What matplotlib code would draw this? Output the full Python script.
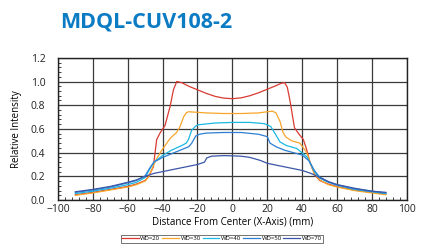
import matplotlib
matplotlib.use("Agg")
import matplotlib.pyplot as plt
from matplotlib.ticker import MultipleLocator

plt.rcParams["font.family"] = ["Open Sans", "DejaVu Sans"]

title = "MDQL-CUV108-2"
labels = ["WD=20", "WD=30", "WD=40", "WD=50", "WD=70"]
colors = ["#d93a32", "#f7a52a", "#1cb8e2", "#2d7fd2", "#3b56a8"]

x20 = [-90, -80, -70, -60, -55, -50, -48, -45.3, -43.4, -41.5, -38.6, -35.7, -33.8, -31.9, -29, -25, -20, -15, -10, -5, 0, 5, 10, 15, 20, 25, 28, 30, 31.5, 33, 35.6, 38, 40.7, 42.5, 44.6, 47.4, 50, 55, 60, 70, 80, 88]
y20 = [0.045, 0.065, 0.09, 0.115, 0.135, 0.165, 0.2, 0.28, 0.51, 0.565, 0.63, 0.79, 0.93, 1.0, 0.99, 0.96, 0.93, 0.9, 0.875, 0.86, 0.855, 0.862, 0.88, 0.905, 0.935, 0.965, 0.985, 0.99, 0.95, 0.84, 0.61, 0.56, 0.51, 0.43, 0.31, 0.21, 0.165, 0.135, 0.115, 0.085, 0.065, 0.05]

x30 = [-90, -80, -70, -60, -55, -50, -47.8, -45, -43.4, -40.5, -35.7, -32, -30, -28, -26.5, -25.2, -22, -15, -5, 0, 5, 15, 20, 23, 25, 27.4, 29, 30.8, 34, 38.7, 42.7, 45, 47, 50, 55, 60, 70, 80, 88]
y30 = [0.04, 0.06, 0.085, 0.11, 0.13, 0.16, 0.2, 0.3, 0.35, 0.42, 0.52, 0.57, 0.62, 0.7, 0.735, 0.745, 0.742, 0.735, 0.73, 0.73, 0.73, 0.735, 0.745, 0.75, 0.735, 0.66, 0.57, 0.53, 0.5, 0.48, 0.4, 0.3, 0.22, 0.17, 0.13, 0.11, 0.08, 0.06, 0.045]

x40 = [-90, -80, -70, -60, -55, -50, -47.8, -45, -39.6, -35, -29, -26.5, -25.2, -23.3, -21, -19.5, -10, 0, 10, 18, 20, 22, 24.5, 27.3, 31, 36.9, 42.7, 45, 47, 50, 55, 60, 70, 80, 88]
y40 = [0.055, 0.075, 0.1, 0.13, 0.15, 0.19, 0.25, 0.32, 0.38, 0.42, 0.46, 0.48, 0.51, 0.59, 0.625, 0.635, 0.65, 0.655, 0.655, 0.645, 0.635, 0.62, 0.56, 0.49, 0.46, 0.435, 0.365, 0.3, 0.24, 0.185, 0.15, 0.125, 0.09, 0.07, 0.055]

x50 = [-90, -80, -70, -60, -55, -50, -47.8, -45, -40, -35, -30, -25, -23.3, -21, -18.9, -15, -5, 0, 5, 15, 20, 21.6, 25, 30, 35, 40, 44, 47, 50, 55, 60, 70, 80, 88]
y50 = [0.065, 0.085, 0.11, 0.145, 0.165, 0.205, 0.26, 0.32, 0.36, 0.39, 0.42, 0.45, 0.48, 0.54, 0.555, 0.565, 0.57, 0.57, 0.57, 0.555, 0.535, 0.48, 0.45, 0.42, 0.4, 0.38, 0.33, 0.25, 0.195, 0.155, 0.13, 0.095, 0.075, 0.06]

x70 = [-90, -80, -70, -60, -55, -50, -45, -40, -30, -20, -16, -14.7, -12, -5, 0, 5, 10, 15.9, 20, 30, 40, 45, 48, 50, 55, 60, 70, 80, 88]
y70 = [0.07, 0.09, 0.115, 0.15, 0.17, 0.2, 0.225, 0.24, 0.27, 0.3, 0.32, 0.355, 0.37, 0.375, 0.373, 0.37, 0.36, 0.335, 0.31, 0.28, 0.25, 0.225, 0.205, 0.19, 0.155, 0.13, 0.1, 0.075, 0.065]

series_x = [x20, x30, x40, x50, x70]
series_y = [y20, y30, y40, y50, y70]

fig = plt.figure(figsize=(4.26, 2.47), dpi=100)
ax = fig.add_axes([0.136, 0.19, 0.819, 0.576])

for xs, ys, c, lab in zip(series_x, series_y, colors, labels):
    ax.plot(xs, ys, color=c, lw=0.9, label=lab)

ax.set_xlim(-100, 100)
ax.set_ylim(0, 1.2)
ax.xaxis.set_major_locator(MultipleLocator(20))
ax.xaxis.set_minor_locator(MultipleLocator(4))
ax.yaxis.set_minor_locator(MultipleLocator(0.04))
ax.set_yticks([0, 0.2, 0.4, 0.6, 0.8, 1.0, 1.2])
ax.set_yticklabels(["0.0", "0.2", "0.4", "0.6", "0.8", "1.0", "1.2"])
ax.grid(True, which="major", color="#3a3a3a", lw=0.9)
ax.set_axisbelow(True)
for s in ax.spines.values():
    s.set_color("#222222")
    s.set_linewidth(1.0)
ax.tick_params(which="both", direction="in", labelsize=7.5, colors="#222222")
ax.tick_params(axis="x", which="major", length=0, pad=3)
ax.tick_params(axis="y", which="major", length=0, pad=9)
ax.tick_params(which="minor", length=2, width=0.6, top=False, right=False)
ax.set_xlabel("Distance From Center (X-Axis) (mm)", fontsize=7, labelpad=1)
ax.set_ylabel("Relative Intensity", fontsize=7, labelpad=6)

fig.text(0.141, 0.91, title, fontsize=15.5, fontweight="bold", color="#0b7bc4", ha="left", va="center")

leg = ax.legend(loc="upper center", bbox_to_anchor=(0.47, -0.225), ncol=5, fontsize=4.3,
                frameon=True, fancybox=False, edgecolor="#333333", handlelength=2.8,
                handletextpad=0.3, columnspacing=0.3, borderpad=0.2)
leg.get_frame().set_linewidth(0.6)

fig.savefig("out.png", dpi=100)
